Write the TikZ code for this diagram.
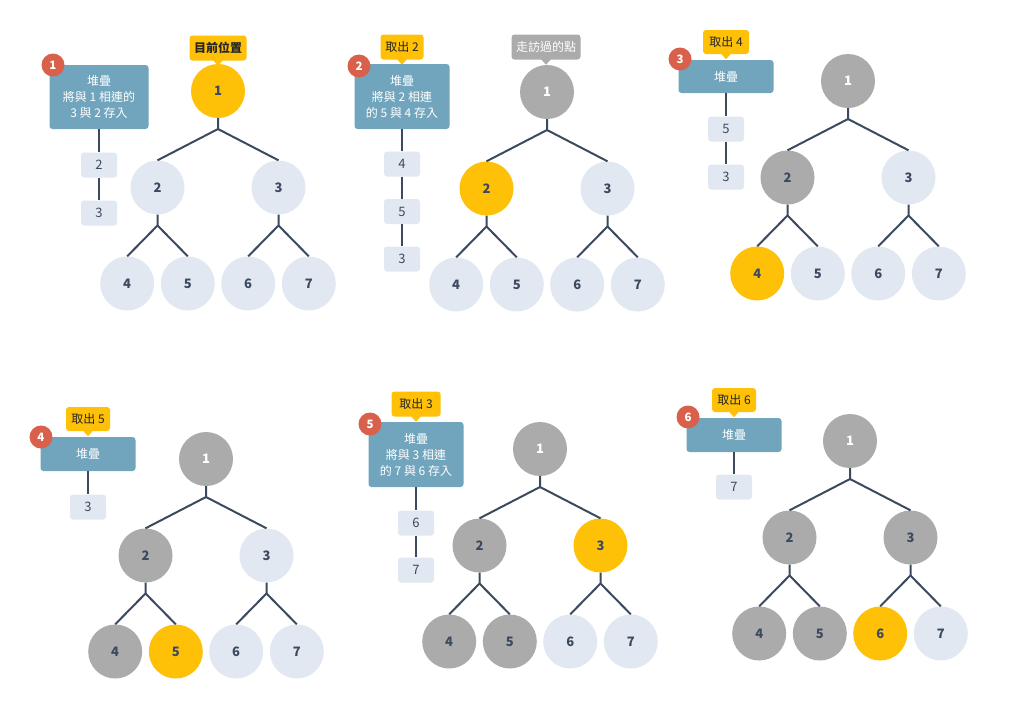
\documentclass[tikz,border=0pt]{standalone}
\usepackage{fontspec}
\setmainfont{Noto Sans CJK TC}
\definecolor{cyel}{HTML}{FFC107}
\definecolor{cgray}{HTML}{ABABAB}
\definecolor{clight}{HTML}{E1E8F1}
\definecolor{cink}{HTML}{3C4A5F}
\definecolor{cblue}{HTML}{70A5BD}
\definecolor{cred}{HTML}{D9604A}
\tikzset{
  tn/.style={circle, minimum size=54pt, inner sep=0pt, font=\bfseries\fontsize{13}{15}\selectfont},
  ty/.style={fill=cyel, text=cink},
  tg/.style={fill=cgray, text=cink},
  tgw/.style={fill=cgray, text=white},
  tl/.style={fill=clight, text=cink},
  edge/.style={draw=cink, line width=2pt},
  stackbox/.style={rectangle, rounded corners=3pt, fill=cblue, text=white, align=center, inner sep=0pt, minimum width=95pt, font=\fontsize{12}{16}\selectfont},
  badge/.style={circle, fill=cred, text=white, minimum size=23pt, inner sep=0pt, font=\bfseries\fontsize{11.5}{12}\selectfont},
  item/.style={rectangle, rounded corners=3pt, fill=clight, text=cink, minimum width=36pt, minimum height=25pt, inner sep=0pt, font=\fontsize{13}{15}\selectfont},
  tipbox/.style={rectangle, rounded corners=3pt, minimum height=25pt, inner sep=0pt, font=\fontsize{12}{14}\selectfont},
  tipy/.style={tipbox, fill=cyel, text=black!85},
  tipg/.style={tipbox, fill=cgray, text=white},
}
\newcommand\tippointer[2]{\fill[#2] ([xshift=-5pt,yshift=0.6pt]#1.south) -- ([xshift=5pt,yshift=0.6pt]#1.south) -- ([yshift=-5pt]#1.south) -- cycle;}
\newcommand\bintree[3]{%
  \node[tn,t1] (#1-1) at (#2,#3) {1};
  \node[tn,t2] (#1-2) at ([shift={(-60.5,96.5)}]#1-1) {2};
  \node[tn,t3] (#1-3) at ([shift={(60.5,96.5)}]#1-1) {3};
  \node[tn,t4] (#1-4) at ([shift={(-30.3,96)}]#1-2) {4};
  \node[tn,t5] (#1-5) at ([shift={(30.3,96)}]#1-2) {5};
  \node[tn,t6] (#1-6) at ([shift={(-30.3,96)}]#1-3) {6};
  \node[tn,t7] (#1-7) at ([shift={(30.3,96)}]#1-3) {7};
  \coordinate (#1-j1) at ([shift={(0,38)}]#1-1);
  \coordinate (#1-j2) at ([shift={(0,38)}]#1-2);
  \coordinate (#1-j3) at ([shift={(0,38)}]#1-3);
  \draw[edge] (#1-1.south) -- (#1-j1) -- (#1-2.north);
  \draw[edge] (#1-j1) -- (#1-3.north);
  \draw[edge] (#1-2.south) -- (#1-j2) -- (#1-4.north);
  \draw[edge] (#1-j2) -- (#1-5.north);
  \draw[edge] (#1-3.south) -- (#1-j3) -- (#1-6.north);
  \draw[edge] (#1-j3) -- (#1-7.north);
}
\begin{document}
\begin{tikzpicture}[x=1pt,y=-1pt]
\fill[white] (0,0) rectangle (1024,721);
\useasboundingbox (0,0) rectangle (1024,721);

% ---------- Panel 1 ----------
\begin{scope}[t1/.style=ty, t2/.style=tl, t3/.style=tl, t4/.style=tl, t5/.style=tl, t6/.style=tl, t7/.style=tl]
\bintree{a}{218}{91}
\end{scope}
\node[tipy, minimum width=57pt, font=\bfseries\fontsize{12}{14}\selectfont] (a-tip) at (218,48) {目前位置};
\tippointer{a-tip}{cyel}
\node[stackbox, minimum width=99pt, minimum height=64pt] (a-box) at (99,97) {堆疊\\將與 1 相連的\\3 與 2 存入};
\node[badge] (a-badge) at (53,65) {1};
\node[item] (a-s1) at (99,165) {2};
\node[item] (a-s2) at (99,213) {3};
\draw[edge] (a-box.south) -- (a-s1.north);
\draw[edge] (a-s1.south) -- (a-s2.north);

% ---------- Panel 2 ----------
\begin{scope}[t1/.style=tgw, t2/.style=ty, t3/.style=tl, t4/.style=tl, t5/.style=tl, t6/.style=tl, t7/.style=tl]
\bintree{b}{547}{92}
\end{scope}
\node[tipg, minimum width=69pt] (b-tipg) at (546,47) {走訪過的點};
\tippointer{b-tipg}{cgray}
\node[tipy, minimum width=43pt] (b-tip) at (402,47) {取出 2};
\tippointer{b-tip}{cyel}
\node[stackbox, minimum height=65pt] (b-box) at (402,96.5) {堆疊\\將與 2 相連\\的 5 與 4 存入};
\node[badge] (b-badge) at (359,66) {2};
\node[item] (b-s1) at (402,164) {4};
\node[item] (b-s2) at (402,211.5) {5};
\node[item] (b-s3) at (402,259) {3};
\draw[edge] (b-box.south) -- (b-s1.north);
\draw[edge] (b-s1.south) -- (b-s2.north);
\draw[edge] (b-s2.south) -- (b-s3.north);

% ---------- Panel 3 ----------
\begin{scope}[t1/.style=tgw, t2/.style=tg, t3/.style=tl, t4/.style=ty, t5/.style=tl, t6/.style=tl, t7/.style=tl]
\bintree{c}{848}{81}
\end{scope}
\node[tipy, minimum width=46pt, minimum height=24pt] (c-tip) at (726,42) {取出 4};
\tippointer{c-tip}{cyel}
\node[stackbox, minimum height=33pt] (c-box) at (726,76.5) {堆疊};
\node[badge] (c-badge) at (680,59) {3};
\node[item] (c-s1) at (726,129) {5};
\node[item] (c-s2) at (726,177) {3};
\draw[edge] (c-box.south) -- (c-s1.north);
\draw[edge] (c-s1.south) -- (c-s2.north);

% ---------- Panel 4 ----------
\begin{scope}[t1/.style=tgw, t2/.style=tg, t3/.style=tl, t4/.style=tg, t5/.style=ty, t6/.style=tl, t7/.style=tl]
\bintree{d}{206}{459}
\end{scope}
\node[tipy, minimum width=44pt, minimum height=24pt] (d-tip) at (88,419) {取出 5};
\tippointer{d-tip}{cyel}
\node[stackbox, minimum height=34pt] (d-box) at (88,454) {堆疊};
\node[badge] (d-badge) at (41,437) {4};
\node[item] (d-s1) at (88,507) {3};
\draw[edge] (d-box.south) -- (d-s1.north);

% ---------- Panel 5 ----------
\begin{scope}[t1/.style=tgw, t2/.style=tg, t3/.style=ty, t4/.style=tg, t5/.style=tg, t6/.style=tl, t7/.style=tl]
\bintree{e}{540}{449}
\end{scope}
\node[tipy, minimum width=49pt] (e-tip) at (416,404) {取出 3};
\tippointer{e-tip}{cyel}
\node[stackbox, minimum height=65pt] (e-box) at (416,454.5) {堆疊\\將與 3 相連\\的 7 與 6 存入};
\node[badge] (e-badge) at (370,424) {5};
\node[item] (e-s1) at (416,523) {6};
\node[item] (e-s2) at (416,570) {7};
\draw[edge] (e-box.south) -- (e-s1.north);
\draw[edge] (e-s1.south) -- (e-s2.north);

% ---------- Panel 6 ----------
\begin{scope}[t1/.style=tgw, t2/.style=tg, t3/.style=tg, t4/.style=tg, t5/.style=tg, t6/.style=ty, t7/.style=tl]
\bintree{f}{850}{441}
\end{scope}
\node[tipy, minimum width=44pt, minimum height=24pt] (f-tip) at (734,400) {取出 6};
\tippointer{f-tip}{cyel}
\node[stackbox, minimum height=34pt] (f-box) at (734,435) {堆疊};
\node[badge] (f-badge) at (688,417) {6};
\node[item] (f-s1) at (734,487) {7};
\draw[edge] (f-box.south) -- (f-s1.north);
\end{tikzpicture}
\end{document}
